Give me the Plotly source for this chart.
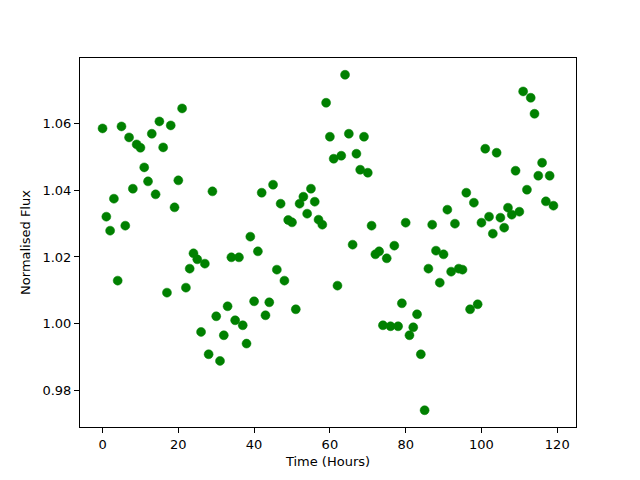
import plotly.graph_objects as go

time_hours = [
    0, 1, 2, 3, 4, 5, 6, 7, 8, 9, 10, 11, 12, 13, 14, 15, 16, 17, 18, 19,
    20, 21, 22, 23, 24, 25, 26, 27, 28, 29, 30, 31, 32, 33, 34, 35, 36, 37, 38, 39,
    40, 41, 42, 43, 44, 45, 46, 47, 48, 49, 50, 51, 52, 53, 54, 55, 56, 57, 58, 59,
    60, 61, 62, 63, 64, 65, 66, 67, 68, 69, 70, 71, 72, 73, 74, 75, 76, 77, 78, 79,
    80, 81, 82, 83, 84, 85, 86, 87, 88, 89, 90, 91, 92, 93, 94, 95, 96, 97, 98, 99,
    100, 101, 102, 103, 104, 105, 106, 107, 108, 109, 110, 111, 112, 113, 114, 115, 116, 117, 118, 119,
]
flux = [
    1.0586, 1.0321, 1.0279, 1.0375, 1.0129, 1.0592, 1.0294, 1.0559, 1.0405, 1.0538,
    1.0528, 1.0469, 1.0427, 1.0570, 1.0388, 1.0607, 1.0529, 1.0093, 1.0595, 1.0349,
    1.0430, 1.0646, 1.0108, 1.0165, 1.0211, 1.0193, 0.9975, 1.0180, 0.9908, 1.0397,
    1.0022, 0.9888, 0.9965, 1.0052, 1.0199, 1.0010, 1.0199, 0.9995, 0.9940, 1.0261,
    1.0067, 1.0217, 1.0393, 1.0025, 1.0064, 1.0417, 1.0162, 1.0360, 1.0129, 1.0311,
    1.0304, 1.0043, 1.0360, 1.0381, 1.0330, 1.0405, 1.0366, 1.0312, 1.0297, 1.0663,
    1.0561, 1.0495, 1.0114, 1.0504, 1.0747, 1.0570, 1.0237, 1.0510, 1.0462, 1.0561,
    1.0453, 1.0294, 1.0208, 1.0217, 0.9995, 1.0196, 0.9992, 1.0234, 0.9992, 1.0061,
    1.0303, 0.9965, 0.9989, 1.0028, 0.9908, 0.9740, 1.0165, 1.0297, 1.0219, 1.0123,
    1.0208, 1.0342, 1.0156, 1.0300, 1.0165, 1.0162, 1.0393, 1.0043, 1.0363, 1.0058,
    1.0303, 1.0525, 1.0321, 1.0270, 1.0513, 1.0318, 1.0288, 1.0348, 1.0327, 1.0459,
    1.0336, 1.0697, 1.0402, 1.0678, 1.0630, 1.0444, 1.0483, 1.0367, 1.0444, 1.0354,
]

fig = go.Figure(go.Scatter(
    x=time_hours, y=flux, mode="markers",
    marker=dict(color="#008000", size=9, line=dict(color="#008000", width=0.5)),
))

xmin, xmax = min(time_hours), max(time_hours)
ymin, ymax = min(flux), max(flux)
xm = 0.05 * (xmax - xmin)
ym = 0.05 * (ymax - ymin)

axis_common = dict(
    showgrid=False, zeroline=False, showline=True, linecolor="black", linewidth=1,
    mirror=True, ticks="outside", ticklen=5, tickwidth=1, tickcolor="black",
    tickfont=dict(family="DejaVu Sans", size=13, color="black"),
    automargin=False,
)

# page body has an 8px default margin, so the figure is sized to fit the window
fig.update_layout(
    width=632, height=472,
    margin=dict(l=72, r=64, t=50, b=53),
    paper_bgcolor="white", plot_bgcolor="white",
    showlegend=False,
    font=dict(family="DejaVu Sans", size=13, color="black"),
    xaxis=dict(range=[xmin - xm, xmax + xm], dtick=20, tick0=0,
               title=dict(text="Time (Hours)", standoff=6,
                          font=dict(family="DejaVu Sans", size=13)),
               **axis_common),
    yaxis=dict(range=[ymin - ym, ymax + ym], dtick=0.02, tick0=0.98, tickformat=".2f",
               title=dict(text="Normalised Flux", standoff=8,
                          font=dict(family="DejaVu Sans", size=13)),
               **axis_common),
)

fig.write_html("out.html")
